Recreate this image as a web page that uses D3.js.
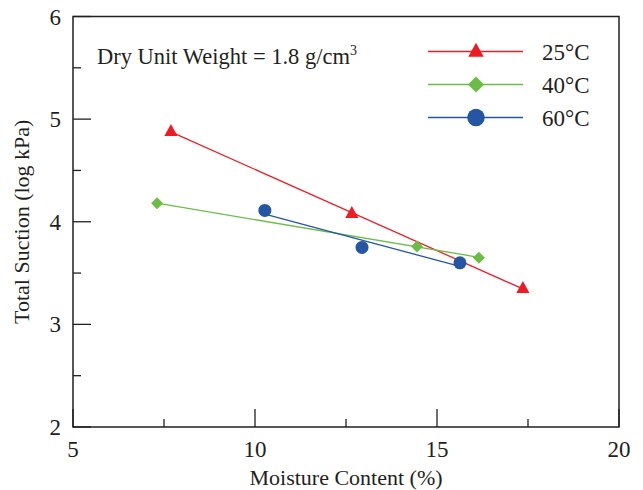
<!DOCTYPE html>
<html>
<head>
<meta charset="utf-8">
<script src="https://cdn.jsdelivr.net/npm/d3@7"></script>
<style>
  body { margin: 0; background: #fff; }
  svg text { font-family: "Liberation Serif", "Times New Roman", serif; fill: #231f20; }
</style>
</head>
<body>
<svg id="chart" width="643" height="490"></svg>
<script>
// series
var series = ['25°C', '40°C', '60°C'];
var colors = ['#ed1c24', '#6cbd45', '#2456a4'];
var symbols = ['triangle', 'diamond', 'circle'];
var moist25 = [7.69, 12.66, 17.36];
var suct25  = [4.88, 4.08, 3.35];
var moist40 = [7.31, 14.45, 16.15];
var suct40  = [4.18, 3.76, 3.65];
var moist60 = [10.27, 12.94, 15.63];
var suct60  = [4.11, 3.75, 3.60];
var xTicks = [5, 10, 15, 20];
var yTicks = [2, 3, 4, 5, 6];

var data = [
  { name: series[0], x: moist25, y: suct25 },
  { name: series[1], x: moist40, y: suct40 },
  { name: series[2], x: moist60, y: suct60 }
];

var svg = d3.select('#chart');
var pLeft = 73, pRight = 619, pTop = 16.5, pBottom = 427;

var x = d3.scaleLinear().domain([5, 20]).range([pLeft, pRight]);
var y = d3.scaleLinear().domain([2, 6]).range([pBottom, pTop]);

// least squares line through each series
function fit(xs, ys) {
  var mx = d3.mean(xs), my = d3.mean(ys);
  var sxy = d3.sum(xs, function (v, i) { return (v - mx) * (ys[i] - my); });
  var sxx = d3.sum(xs, function (v) { return (v - mx) * (v - mx); });
  var b = sxy / sxx;
  return function (v) { return my + b * (v - mx); };
}

function marker(g, kind, cx, cy, s, color) {
  if (kind === 'triangle') {
    g.append('path')
      .attr('d', 'M' + cx + ',' + (cy - s * 0.62) + 'L' + (cx + s * 0.55) + ',' + (cy + s * 0.38) + 'L' + (cx - s * 0.55) + ',' + (cy + s * 0.38) + 'Z')
      .attr('fill', color);
  } else if (kind === 'diamond') {
    g.append('path')
      .attr('d', 'M' + cx + ',' + (cy - s / 2) + 'L' + (cx + s / 2) + ',' + cy + 'L' + cx + ',' + (cy + s / 2) + 'L' + (cx - s / 2) + ',' + cy + 'Z')
      .attr('fill', color);
  } else {
    g.append('circle').attr('cx', cx).attr('cy', cy).attr('r', s / 2).attr('fill', color);
  }
}

// frame
svg.append('rect')
  .attr('x', pLeft).attr('y', pTop)
  .attr('width', pRight - pLeft).attr('height', pBottom - pTop)
  .attr('fill', 'none').attr('stroke', '#231f20').attr('stroke-width', 1.5);

// ticks (inward, major + minor)
var tickG = svg.append('g').attr('stroke', '#231f20').attr('stroke-width', 1.3);
d3.range(5, 20.01, 2.5).forEach(function (v) {
  var len = (v % 5 === 0) ? 18 : 8;
  tickG.append('line').attr('x1', x(v)).attr('x2', x(v)).attr('y1', pBottom).attr('y2', pBottom - len);
});
d3.range(2, 6.01, 0.5).forEach(function (v) {
  var len = (v % 1 === 0) ? 18 : 8;
  tickG.append('line').attr('y1', y(v)).attr('y2', y(v)).attr('x1', pLeft).attr('x2', pLeft + len);
});

svg.selectAll('.xlab').data(xTicks).enter().append('text')
  .attr('x', function (d) { return x(d); }).attr('y', pBottom + 30)
  .attr('text-anchor', 'middle').attr('font-size', 23)
  .text(function (d) { return d; });

svg.selectAll('.ylab').data(yTicks).enter().append('text')
  .attr('x', pLeft - 12).attr('y', function (d) { return y(d) + 8; })
  .attr('text-anchor', 'end').attr('font-size', 23)
  .text(function (d) { return d; });

svg.append('text')
  .attr('x', (pLeft + pRight) / 2).attr('y', 485)
  .attr('text-anchor', 'middle').attr('font-size', 22)
  .text('Moisture Content (%)');

svg.append('text')
  .attr('transform', 'translate(29,' + ((pTop + pBottom) / 2) + ') rotate(-90)')
  .attr('text-anchor', 'middle').attr('font-size', 22)
  .text('Total Suction (log kPa)');

var note = svg.append('text').attr('x', 97).attr('y', 64).attr('font-size', 22.5);
note.append('tspan').text('Dry Unit Weight = 1.8 g/cm');
note.append('tspan').attr('dy', -9).attr('font-size', 14).text('3');

// fitted lines and points
data.forEach(function (s, i) {
  var f = fit(s.x, s.y);
  var x0 = d3.min(s.x), x1 = d3.max(s.x);
  svg.append('line')
    .attr('x1', x(x0)).attr('y1', y(f(x0)))
    .attr('x2', x(x1)).attr('y2', y(f(x1)))
    .attr('stroke', colors[i]).attr('stroke-width', 1.3);
  var g = svg.append('g');
  s.x.forEach(function (v, j) {
    marker(g, symbols[i], x(v), y(s.y[j]), symbols[i] === 'circle' ? 13 : 12, colors[i]);
  });
});

// legend
var lg = svg.append('g');
series.forEach(function (name, i) {
  var ly = 51.5 + i * 33;
  lg.append('line').attr('x1', 428).attr('x2', 523).attr('y1', ly).attr('y2', ly)
    .attr('stroke', colors[i]).attr('stroke-width', 1.3);
  marker(lg, symbols[i], 476, ly, symbols[i] === 'circle' ? 17.5 : (symbols[i] === 'diamond' ? 16 : 14), colors[i]);
  lg.append('text').attr('x', 542).attr('y', ly + 8).attr('font-size', 23).text(name);
});
</script>
</body>
</html>
